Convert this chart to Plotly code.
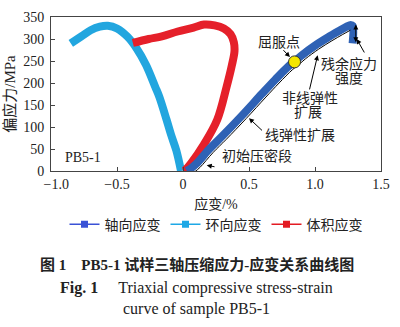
import plotly.graph_objects as go

# ---- data ----
axial_strain = [0.03, 0.06, 0.10, 0.20, 0.30, 0.45, 0.60, 0.70, 0.80, 0.85, 0.90, 1.00, 1.10, 1.18, 1.24, 1.27, 1.285, 1.285]
axial_stress = [0, 6, 16, 50, 80, 127, 176, 208, 238, 250, 263, 285, 304, 318, 328, 332, 330, 290]

lateral_strain = [-0.015, -0.05, -0.09, -0.125, -0.18, -0.21, -0.28, -0.35, -0.42, -0.50, -0.57, -0.63, -0.70, -0.77, -0.85]
lateral_stress = [0, 46, 82, 117, 169, 191, 241, 278, 305, 324, 330, 328, 320, 306, 290]

vol_strain = [0.0, 0.015, 0.06, 0.16, 0.26, 0.33, 0.37, 0.39, 0.385, 0.36, 0.31, 0.24, 0.16, 0.08, -0.04, -0.16, -0.26, -0.38]
vol_stress = [0, 2, 17, 61, 117, 191, 240, 272, 293, 311, 324, 331, 333, 326, 317, 306, 300, 291]

yield_strain = [0.845]
yield_stress = [248]

x_ticks = [-1.0, -0.5, 0, 0.5, 1.0, 1.5]
x_tick_labels = ["\u2002\u00a0\u22121.0", "\u22120.5", "0", "0.5", "1.0", "1.5"]
y_ticks = [0, 50, 100, 150, 200, 250, 300, 350]

series_names = ["轴向应变", "环向应变", "体积应变"]
series_colors = ["#2f62b5", "#22a6df", "#e5202a"]
legend_colors = ["#3a52d6", "#1ea8e6", "#e31b23"]

FONT = "Liberation Serif, Noto Sans CJK SC, serif"
NB = "\u00a0"

fig = go.Figure()

# thick data curves
for xs, ys, c in [(lateral_strain, lateral_stress, series_colors[1]),
                  (vol_strain, vol_stress, series_colors[2]),
                  (axial_strain, axial_stress, series_colors[0])]:
    fig.add_trace(go.Scatter(x=xs, y=ys, mode="lines", showlegend=False,
                             line=dict(color=c, width=8, shape="spline", smoothing=1.0)))

# thin guide line along the lower edge of the axial curve
n_pre = 15
fig.add_trace(go.Scatter(x=[v + 0.028 for v in axial_strain[1:n_pre]],
                         y=[v - 8 for v in axial_stress[1:n_pre]],
                         mode="lines", showlegend=False,
                         line=dict(color="black", width=1, shape="spline")))

# yield point
fig.add_trace(go.Scatter(x=yield_strain, y=yield_stress, mode="markers", showlegend=False,
                         marker=dict(color="#f3e600", size=12, line=dict(color="#333", width=1))))

# legend entries
for name, c in zip(series_names, legend_colors):
    fig.add_trace(go.Scatter(x=[None], y=[None], mode="lines+markers", name=name,
                             line=dict(color=c, width=1.5),
                             marker=dict(color=c, symbol="square", size=7)))

ann = []
def txt(x, y, t, size=14, **kw):
    ann.append(dict(x=x, y=y, text=t, showarrow=False, xref="x", yref="y",
                    font=dict(size=size, family=FONT, color="#222"), **kw))

def arrow(x0, y0, x1, y1, side="end"):
    ann.append(dict(x=x1, y=y1, ax=x0, ay=y0, axref="x", ayref="y", xref="x", yref="y",
                    text="", showarrow=True, arrowhead=2, arrowsize=1, arrowwidth=1,
                    arrowcolor="black", arrowside=side, standoff=0, startstandoff=0))

txt(0.73, 291, "屈服点")
arrow(0.75, 278, 0.81, 259)
txt(1.26, 243, "残余应力")
txt(1.26, 210, "强度")
arrow(1.38, 266, 1.316, 300)
arrow(1.309, 289, 1.309, 333, side="end+start")
txt(0.96, 164, "非线弹性")
txt(0.95, 132, "扩展")
arrow(0.956, 182, 1.02, 263)
txt(0.89, 80, "线弹性扩展")
arrow(0.61, 89, 0.50, 120)
txt(0.56, 35, "初始压密段")
arrow(0.25, 9, 0.18, 13)
txt(-0.76, 30, "PB5-1")

# caption
def cap(ypx, t, size=14):
    ann.append(dict(x=(200 - 50) / 340, y=(171 - ypx) / 161, xref="paper", yref="paper",
                    text=t, showarrow=False, xanchor="center", yanchor="middle",
                    font=dict(size=size, family=FONT, color="#222")))

cap(269, "<b>图" + NB + "1" + NB * 4 + "PB5-1 试样三轴压缩应力-应变关系曲线图</b>", size=15)
cap(293, "<b>Fig." + NB + "1</b>" + NB * 5 + "Triaxial compressive stress-strain", size=16)
cap(315, "curve of sample PB5-1", size=16)

axis_common = dict(showgrid=False, zeroline=False, showline=True, mirror=True,
                   linecolor="#444", linewidth=1, ticks="inside", ticklen=4,
                   tickcolor="#444", tickfont=dict(size=14, family=FONT, color="#222"))

fig.update_layout(
    width=400, height=327,
    margin=dict(l=50, r=10, t=10, b=156),
    paper_bgcolor="white", plot_bgcolor="white",
    font=dict(family=FONT, color="#222"),
    xaxis=dict(range=[-1.0, 1.5], tickvals=x_ticks, ticktext=x_tick_labels,
               title=dict(text="应变/%", font=dict(size=14, family=FONT), standoff=8),
               **axis_common),
    yaxis=dict(range=[0, 350], tickvals=y_ticks, ticklabelstandoff=3,
               title=dict(text="偏应力/MPa", font=dict(size=15, family=FONT), standoff=3),
               **axis_common),
    legend=dict(orientation="h", x=0.5, xanchor="center", y=(171 - 227) / 161, yanchor="middle",
                font=dict(size=14, family=FONT), itemwidth=30, bgcolor="rgba(0,0,0,0)"),
    annotations=ann,
)

fig.write_html("out.html")
